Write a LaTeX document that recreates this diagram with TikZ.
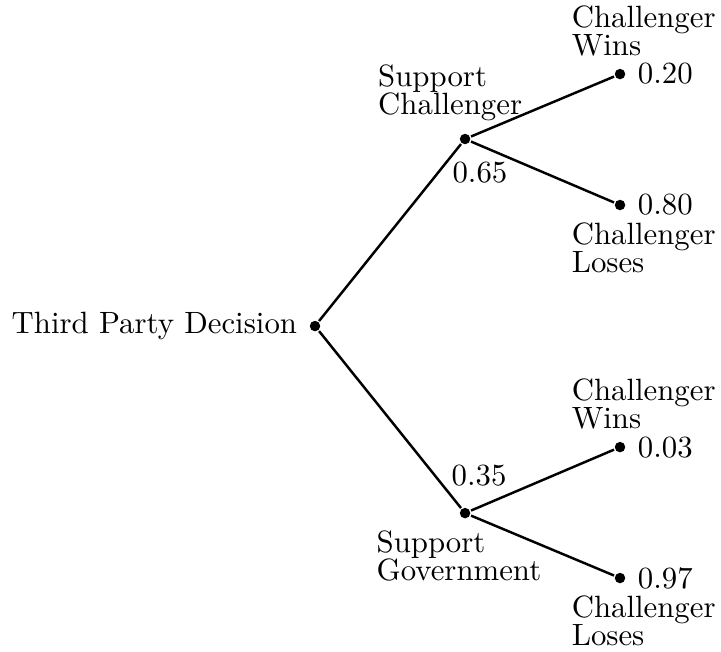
\documentclass[tikz,border=0pt]{standalone}
\usetikzlibrary{positioning}

\begin{document}
\begin{tikzpicture}[line width=0.8pt,
  dot/.style={circle, fill, inner sep=0pt, minimum size=3.4pt},
  lbl/.style={align=left, font=\fontsize{10pt}{9pt}\selectfont}]

\useasboundingbox (-3.594, -3.708) rectangle (4.632, 3.720);

\node[dot] (root) at (0, 0) {};
\node[dot] (sc) at (1.712, 2.134) {};
\node[dot] (sg) at (1.712, -2.134) {};
\node[dot] (scwin) at (3.480, 2.875) {};
\node[dot] (sclose) at (3.480, 1.381) {};
\node[dot] (sgwin) at (3.480, -1.381) {};
\node[dot] (sglose) at (3.480, -2.875) {};

\draw (root) -- (sc);
\draw (root) -- (sg);
\draw (sc) -- (scwin);
\draw (sc) -- (sclose);
\draw (sg) -- (sgwin);
\draw (sg) -- (sglose);

\node[left=0pt of root] (rootlbl) {Third Party Decision};

\node[lbl, above=0pt of sc, xshift=-0.17cm] (sclbl) {Support\\Challenger};
\node[below=1.5pt of sc, xshift=0.17cm] (scp) {0.65};
\node[lbl, below=0pt of sg, xshift=-0.07cm] (sglbl) {Support\\Government};
\node[above=3pt of sg, xshift=0.16cm] (sgp) {0.35};

\node[lbl, above=0pt of scwin, xshift=0.27cm] (scwinlbl) {Challenger\\Wins};
\node[right=0pt of scwin] (scwinp) {0.20};
\node[lbl, below=0pt of sclose, xshift=0.27cm] (scloselbl) {Challenger\\Loses};
\node[right=0pt of sclose] (sclosep) {0.80};

\node[lbl, above=0pt of sgwin, xshift=0.27cm] (sgwinlbl) {Challenger\\Wins};
\node[right=0pt of sgwin] (sgwinp) {0.03};
\node[lbl, below=0pt of sglose, xshift=0.27cm] (sgloselbl) {Challenger\\Loses};
\node[right=0pt of sglose] (sglosep) {0.97};

\end{tikzpicture}
\end{document}
